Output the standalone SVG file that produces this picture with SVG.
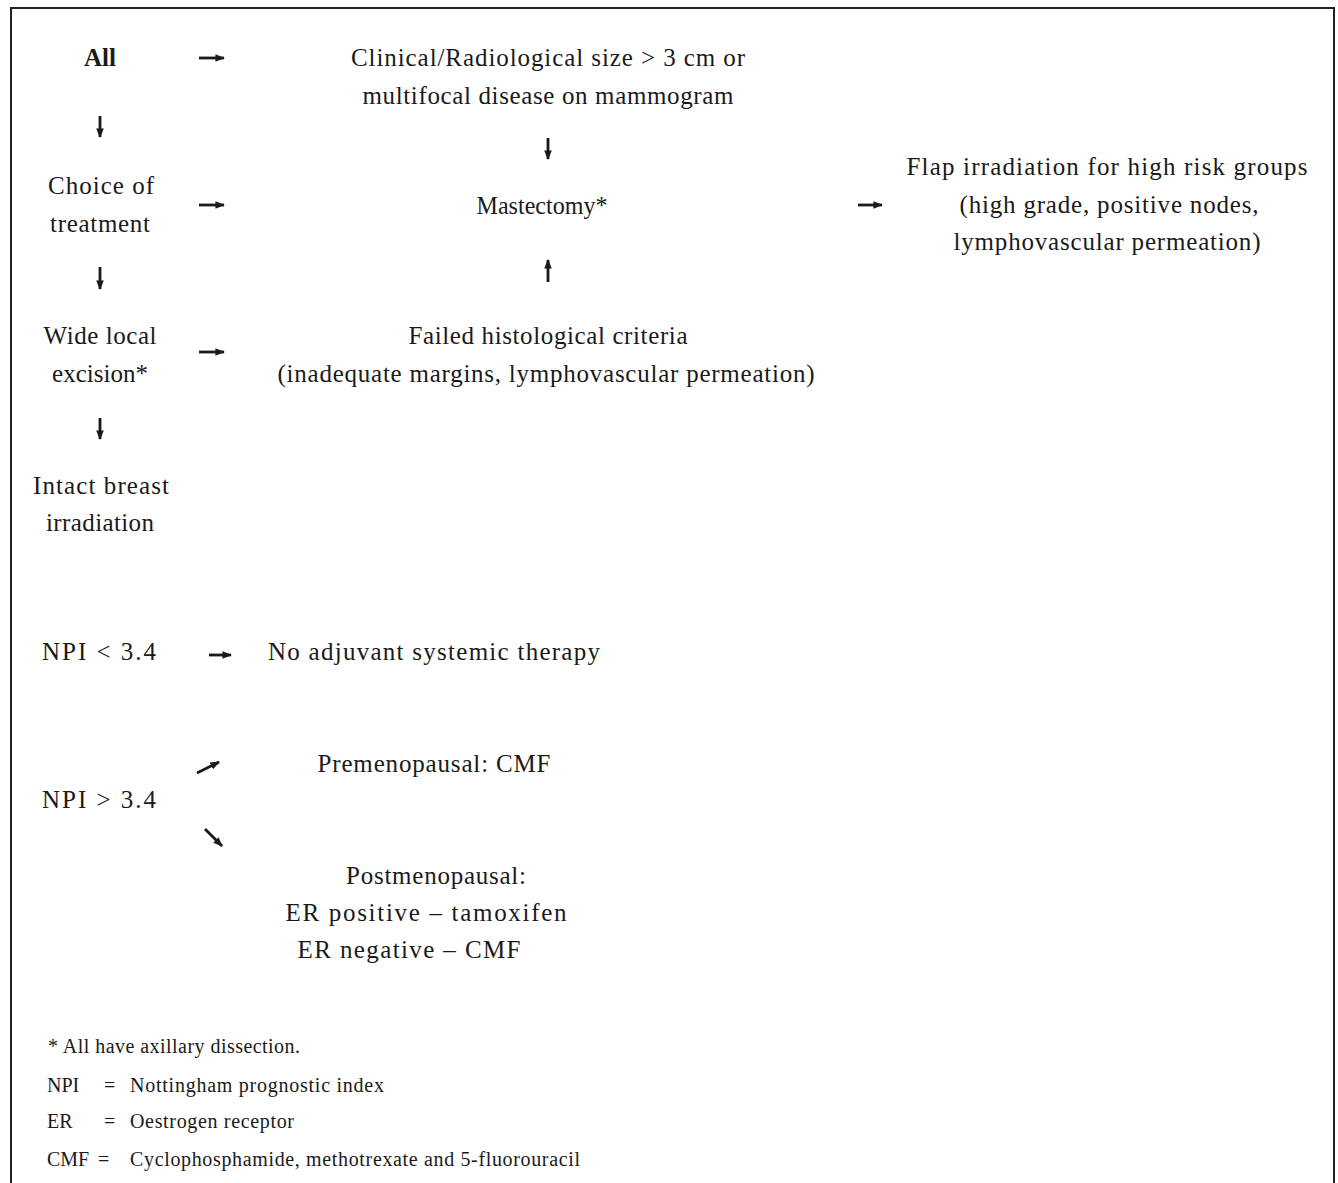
<svg xmlns="http://www.w3.org/2000/svg" width="1338" height="1183" viewBox="0 0 1338 1183">
<style>
text{font-family:"Liberation Serif","Times New Roman",serif;fill:#1a1a1a}
.t{font-size:25px}
.c{text-anchor:middle}
.b{font-weight:bold}
.f{font-size:20px}
.a{stroke:#1a1a1a;stroke-width:2.8;fill:none;marker-end:url(#ah)}
</style>
<defs>
<marker id="ah" viewBox="0 0 10 10" refX="9" refY="5" markerWidth="3.4" markerHeight="3.4" orient="auto" markerUnits="strokeWidth">
<path d="M0,1 L10,5 L0,9 Z" fill="#1a1a1a"/>
</marker>
</defs>
<rect width="1338" height="1183" fill="#fff"/>
<path d="M11,1183 V8 H1334 V1183" stroke="#222" stroke-width="2" fill="none"/>
<g id="n-all"><text class="t c b" x="100" y="66">All</text></g>
<g id="n-clinical"><text class="t c" x="548" y="66" textLength="394" lengthAdjust="spacing">Clinical/Radiological size &gt; 3  cm or</text><text class="t c" x="548" y="104" textLength="371" lengthAdjust="spacing">multifocal disease on mammogram</text></g>
<g id="n-choice"><text class="t c" x="101" y="194" textLength="106" lengthAdjust="spacing">Choice of</text><text class="t c" x="100" y="232" textLength="100" lengthAdjust="spacing">treatment</text></g>
<g id="n-mastectomy"><text class="t c" x="542" y="214" textLength="131" lengthAdjust="spacingAndGlyphs">Mastectomy*</text></g>
<g id="n-flap"><text class="t c" x="1107" y="175" textLength="401" lengthAdjust="spacing">Flap irradiation for high risk groups</text><text class="t c" x="1109" y="213" textLength="299" lengthAdjust="spacing">(high grade, positive nodes,</text><text class="t c" x="1107" y="250" textLength="307" lengthAdjust="spacing">lymphovascular permeation)</text></g>
<g id="n-wle"><text class="t c" x="100" y="344" textLength="113" lengthAdjust="spacing">Wide local</text><text class="t c" x="100" y="382">excision*</text></g>
<g id="n-failed"><text class="t c" x="548" y="344" textLength="279" lengthAdjust="spacing">Failed histological criteria</text><text class="t c" x="546" y="382" textLength="537" lengthAdjust="spacing">(inadequate margins, lymphovascular permeation)</text></g>
<g id="n-intact"><text class="t c" x="101" y="494" textLength="136" lengthAdjust="spacing">Intact breast</text><text class="t c" x="100" y="531" textLength="108" lengthAdjust="spacing">irradiation</text></g>
<g id="n-npi-low"><text class="t" x="42" y="660" textLength="114" lengthAdjust="spacing">NPI &lt; 3.4</text></g>
<g id="n-noadj"><text class="t" x="268" y="660" textLength="332" lengthAdjust="spacing">No adjuvant systemic therapy</text></g>
<g id="n-npi-high"><text class="t" x="42" y="808" textLength="114" lengthAdjust="spacing">NPI &gt; 3.4</text></g>
<g id="n-pre"><text class="t c" x="434" y="772" textLength="233" lengthAdjust="spacing">Premenopausal: CMF</text></g>
<g id="n-post"><text class="t c" x="436" y="884" textLength="180" lengthAdjust="spacing">Postmenopausal:</text><text class="t c" x="426" y="921" textLength="281" lengthAdjust="spacing">ER positive – tamoxifen</text><text class="t c" x="409" y="958" textLength="223" lengthAdjust="spacing">ER negative – CMF</text></g>
<g id="connectors">
<line class="a" x1="199" y1="58" x2="224" y2="58"/>
<line class="a" x1="100" y1="116" x2="100" y2="137"/>
<line class="a" x1="548" y1="138" x2="548" y2="159"/>
<line class="a" x1="199" y1="205" x2="224" y2="205"/>
<line class="a" x1="858" y1="205" x2="882" y2="205"/>
<line class="a" x1="100" y1="267" x2="100" y2="289"/>
<line class="a" x1="548" y1="282" x2="548" y2="260"/>
<line class="a" x1="199" y1="352" x2="224" y2="352"/>
<line class="a" x1="100" y1="418" x2="100" y2="439"/>
<line class="a" x1="209" y1="655" x2="231" y2="655"/>
<line class="a" x1="197" y1="773" x2="219" y2="762"/>
<line class="a" x1="205" y1="829" x2="222" y2="846"/>
</g>
<g id="legend">
<text class="f" x="48" y="1053" textLength="252" lengthAdjust="spacing">*  All have axillary dissection.</text>
<text class="f" x="47" y="1092">NPI</text><text class="f" x="104" y="1092">=</text><text class="f" x="130" y="1092" textLength="254" lengthAdjust="spacing">Nottingham prognostic index</text>
<text class="f" x="47" y="1128">ER</text><text class="f" x="104" y="1128">=</text><text class="f" x="130" y="1128" textLength="164" lengthAdjust="spacing">Oestrogen receptor</text>
<text class="f" x="47" y="1166">CMF</text><text class="f" x="98" y="1166">=</text><text class="f" x="130" y="1166" textLength="450" lengthAdjust="spacing">Cyclophosphamide,  methotrexate and 5-fluorouracil</text>
</g>
</svg>
